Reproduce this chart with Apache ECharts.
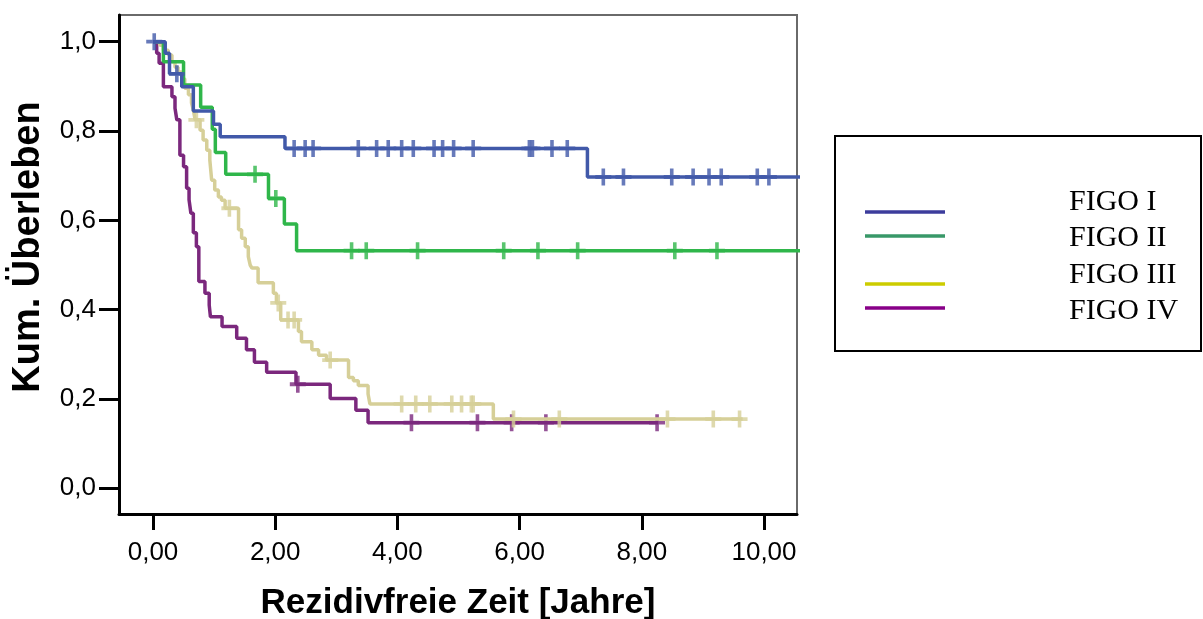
<!DOCTYPE html>
<html>
<head>
<meta charset="utf-8">
<script src="https://cdn.jsdelivr.net/npm/echarts@6/dist/echarts.min.js"></script>
<style>
  html, body { margin: 0; padding: 0; background: #fff; }
  #chart { width: 1203px; height: 619px; }
</style>
</head>
<body>
<div id="chart"></div>
<script>
// Axis ticks
const xTicks = [0, 2, 4, 6, 8, 10];
const yTicks = [0, 0.2, 0.4, 0.6, 0.8, 1.0];

// Kaplan-Meier steps: time (years) and cumulative survival after each event
const timesI = [0, 0.20, 0.27, 0.47, 0.66, 0.99, 1.10, 2.16, 7.11];
const survI  = [1.0, 0.974, 0.928, 0.899, 0.845, 0.815, 0.787, 0.761, 0.697];
const censorI = [0.02, 0.39, 2.31, 2.49, 2.62, 3.36, 3.66, 3.85, 4.07, 4.26, 4.60, 4.74, 4.92, 5.24,
                 6.16, 6.21, 6.53, 6.78, 7.37, 7.70, 8.49, 8.84, 9.10, 9.30, 9.89, 10.08];
const lastI = 10.8;

const timesII = [0, 0.17, 0.50, 0.78, 0.97, 1.02, 1.19, 1.89, 2.15, 2.35];
const survII  = [1.0, 0.955, 0.903, 0.853, 0.804, 0.752, 0.703, 0.649, 0.592, 0.532];
const censorII = [1.67, 2.01, 3.25, 3.49, 4.33, 5.74, 6.30, 6.95, 8.54, 9.23];
const lastII = 10.8;

const timesIII = [0, 0.11, 0.17, 0.25, 0.31, 0.36, 0.41, 0.47, 0.52, 0.58, 0.63, 0.66, 0.69,
                  0.77, 0.82, 0.88, 0.93, 0.96, 1.01, 1.07, 1.12, 1.18, 1.40, 1.45, 1.51, 1.56,
                  1.59, 1.62, 1.72, 1.97, 2.02, 2.09, 2.38, 2.43, 2.60, 2.71, 2.84, 3.20, 3.28,
                  3.36, 3.52, 3.55, 5.57];
const survIII  = [1.0, 0.992, 0.981, 0.970, 0.955, 0.943, 0.932, 0.917, 0.896, 0.881, 0.863, 0.847, 0.825,
                  0.802, 0.780, 0.757, 0.735, 0.690, 0.668, 0.652, 0.645, 0.627, 0.579, 0.560, 0.541, 0.519,
                  0.500, 0.493, 0.460, 0.437, 0.415, 0.377, 0.351, 0.328, 0.310, 0.298, 0.287, 0.248, 0.241,
                  0.230, 0.211, 0.189, 0.155];
const censorIII = [0.71, 1.25, 2.05, 2.21, 2.31, 2.90, 4.07, 4.30, 4.53, 4.89, 5.05, 5.21, 5.24,
                   5.90, 6.65, 8.42, 9.17, 9.60];
const lastIII = 9.65;

const timesIV = [0, 0.06, 0.10, 0.17, 0.31, 0.36, 0.39, 0.44, 0.50, 0.55, 0.59, 0.62, 0.66, 0.71,
                 0.75, 0.85, 0.92, 0.94, 1.13, 1.37, 1.53, 1.66, 1.86, 2.34, 2.90, 3.32, 3.52];
const survIV  = [1.0, 0.974, 0.952, 0.899, 0.877, 0.851, 0.825, 0.746, 0.720, 0.672, 0.646, 0.616, 0.572, 0.541,
                 0.463, 0.437, 0.410, 0.384, 0.362, 0.336, 0.310, 0.282, 0.260, 0.233, 0.201, 0.175, 0.147];
const censorIV = [2.37, 4.23, 5.31, 5.87, 6.43, 8.25];
const lastIV = 8.27;

const groupNames = ['FIGO I', 'FIGO II', 'FIGO III', 'FIGO IV'];
const curveColors = ['#4159a9', '#2fb64a', '#d6cf98', '#7b287d'];
const legendColors = ['#3c3c9c', '#389868', '#cccc00', '#880088'];

const groups = [
  { times: timesI, surv: survI, censor: censorI, last: lastI },
  { times: timesII, surv: survII, censor: censorII, last: lastII },
  { times: timesIII, surv: survIII, censor: censorIII, last: lastIII },
  { times: timesIV, surv: survIV, censor: censorIV, last: lastIV }
];

// survival level in effect at time t
function levelAt(g, t) {
  let s = g.surv[0];
  for (let i = 0; i < g.times.length; i++) {
    if (g.times[i] <= t) s = g.surv[i];
  }
  return s;
}

// "+" marker for censored cases
const plusPath = 'path://M6.2,0H9.8V6.2H16V9.8H9.8V16H6.2V9.8H0V6.2H6.2Z';

const series = [];
// draw FIGO IV first so FIGO I ends up on top
for (let k = groups.length - 1; k >= 0; k--) {
  const g = groups[k];
  const pts = g.times.map((t, i) => [t, g.surv[i]]);
  pts.push([g.last, g.surv[g.surv.length - 1]]);
  series.push({
    name: groupNames[k],
    type: 'line',
    step: 'end',
    data: pts,
    symbol: 'none',
    lineStyle: { color: curveColors[k], width: 3.5 },
    clip: true,
    silent: true,
    z: 2 + (3 - k)
  });
  series.push({
    name: groupNames[k] + ' zensiert',
    type: 'scatter',
    data: g.censor.map(t => [t, levelAt(g, t)]),
    symbol: plusPath,
    symbolSize: [16, 17],
    itemStyle: { color: curveColors[k] },
    silent: true,
    z: 2 + (3 - k)
  });
}

const fmt = (d) => (v) => v.toFixed(d).replace('.', ',');

const legendGraphics = [
  { type: 'rect', shape: { x: 835, y: 136, width: 366, height: 215 },
    style: { fill: '#fff', stroke: '#000', lineWidth: 2 } }
];
const legendLineY = [212, 236, 284, 308];
const legendTextY = [202, 238, 275, 311];
groupNames.forEach((n, i) => {
  legendGraphics.push({ type: 'line', shape: { x1: 865, y1: legendLineY[i], x2: 945, y2: legendLineY[i] },
    style: { stroke: legendColors[i], lineWidth: 3.5 } });
  legendGraphics.push({ type: 'text', x: 1069, y: legendTextY[i],
    style: { text: n, font: '30px "Liberation Serif", "Times New Roman", serif', fill: '#000',
             textAlign: 'left', textVerticalAlign: 'middle' } });
});

const option = {
  backgroundColor: '#fff',
  animation: false,
  grid: { left: 119, right: 406, top: 15, bottom: 105, show: true, outerBoundsMode: 'none',
          containLabel: false, borderColor: '#6a6a6a', borderWidth: 2, backgroundColor: 'transparent' },
  xAxis: {
    type: 'value', min: -0.5565, max: 10.54,
    name: 'Rezidivfreie Zeit [Jahre]', nameLocation: 'middle', nameGap: 72,
    nameTextStyle: { fontFamily: '"Liberation Sans", Arial, sans-serif', fontWeight: 'bold', fontSize: 35, color: '#000' },
    axisLine: { show: true, onZero: false, lineStyle: { color: '#000', width: 3 } },
    axisTick: { show: true, customValues: xTicks, length: 16, lineStyle: { color: '#000', width: 3 } },
    axisLabel: { customValues: xTicks, formatter: fmt(2), margin: 26,
                 fontFamily: '"Liberation Sans", Arial, sans-serif', fontSize: 26, color: '#000' },
    splitLine: { show: false }
  },
  yAxis: {
    type: 'value', min: -0.0576, max: 1.0598,
    axisLine: { show: true, onZero: false, lineStyle: { color: '#000', width: 3 } },
    axisTick: { show: true, customValues: yTicks, length: 20, lineStyle: { color: '#000', width: 3 } },
    axisLabel: { customValues: yTicks, formatter: fmt(1), margin: 23,
                 fontFamily: '"Liberation Sans", Arial, sans-serif', fontSize: 26, color: '#000' },
    splitLine: { show: false }
  },
  graphic: [
    { type: 'text', x: 29, y: 247, rotation: Math.PI / 2,
      style: { text: 'Kum. Überleben', font: 'bold 38px "Liberation Sans", Arial, sans-serif', fill: '#000',
               textAlign: 'center', textVerticalAlign: 'middle' } }
  ].concat(legendGraphics),
  series: series
};

const chart = echarts.init(document.getElementById('chart'), null, { renderer: 'canvas' });
chart.setOption(option);
</script>
</body>
</html>
